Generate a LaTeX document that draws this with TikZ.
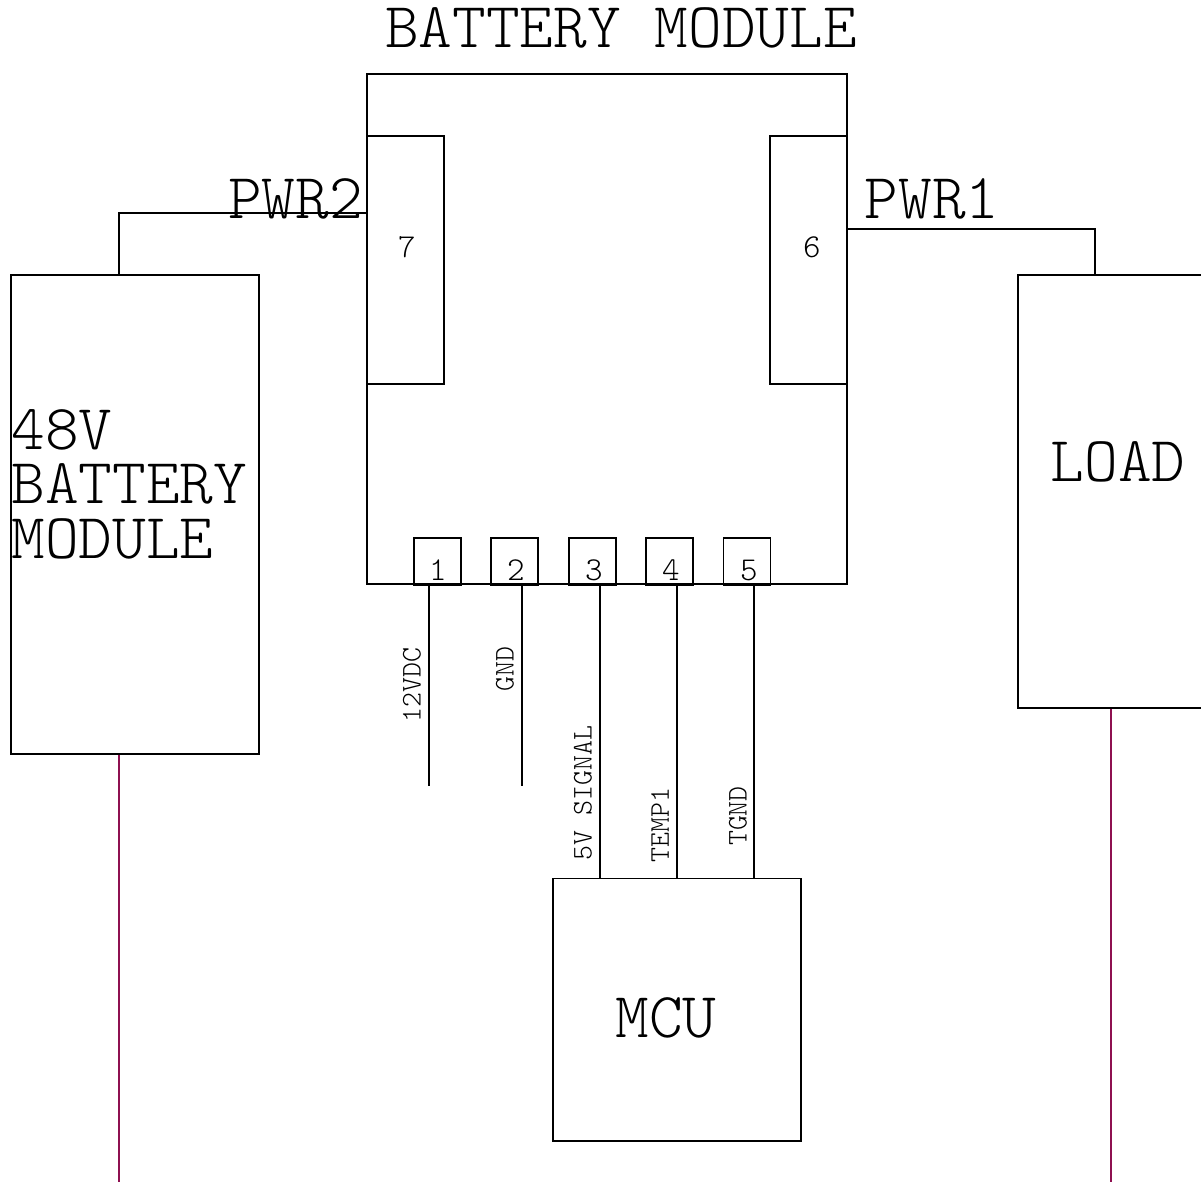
\documentclass[tikz,border=0pt]{standalone}
\usepackage{fontspec}
\usetikzlibrary{positioning}
\definecolor{feed}{HTML}{8E1050}
\tikzset{
    % outline boxes
    block/.style={
	rectangle,
	draw=black, line width=1pt,
	inner sep=0pt,
	anchor=north west
    },
    pin/.style={block, minimum width=.94cm, minimum height=.94cm},
    pinnum/.style={font=\fontsize{19}{19}\fontseries{l}\ttfamily\selectfont, inner sep=0pt},
    biglabel/.style={font=\fontsize{36.5}{31}\fontseries{l}\ttfamily\selectfont, inner sep=0pt},
    siglabel/.style={font=\fontsize{16.2}{18}\fontseries{l}\ttfamily\selectfont, inner sep=0pt, rotate=90},
    wire/.style={draw=black, line width=1pt},
    feedwire/.style={draw=feed, line width=1pt}
}
\begin{document}
\begin{tikzpicture}[x=.02cm,y=-.02cm]
	\useasboundingbox (0,0) rectangle (1201,1182);
	%blocks
	\node[block, minimum width=9.6cm, minimum height=10.2cm](module) at (366.4,73.5){};
	\node[block, minimum width=1.54cm, minimum height=4.96cm](port7) at (366.4,135.5){};
	\node[block, minimum width=1.54cm, minimum height=4.96cm](port6) at (769.4,135.5){};
	\node[block, minimum width=4.96cm, minimum height=9.58cm](battery) at (10,274.5){};
	\node[block, minimum width=4.96cm, minimum height=8.66cm](load) at (1017,274.5){};
	\node[block, minimum width=4.96cm, minimum height=5.26cm](mcu) at (552.4,877.5){};
	%pins
	\node[pin](pin1) at (413,537.5){};
	\node[pin](pin2) at (490.4,537.5){};
	\node[pin](pin3) at (568,537.5){};
	\node[pin](pin4) at (645.4,537.5){};
	\node[pin](pin5) at (722.6,537.5){};
	%free ends
	\coordinate (end12) at (429,786);
	\coordinate (endgnd) at (522,786);
	\coordinate (endbat) at (119,1182);
	\coordinate (endload) at (1111,1182);
	%labels
	\node[biglabel] (title) at (621,28){BATTERY MODULE};
	\node[biglabel] (pwr2) at (295.5,199){PWR2};
	\node[biglabel] (pwr1) at (932,199){PWR1};
	\node[biglabel, anchor=west, align=left] (batt) at (11,484){48V\\BATTERY\\MODULE};
	\node[biglabel] (loadtext) at (1118,462){LOAD};
	\node[biglabel] (mcutext) at (666,1018){MCU};
	\node[pinnum] (n7) at (407,247){7};
	\node[pinnum] (n6) at (812,247){6};
	\node[pinnum] (n1) at (438,570){1};
	\node[pinnum] (n2) at (516,570){2};
	\node[pinnum] (n3) at (594,570){3};
	\node[pinnum] (n4) at (671,570){4};
	\node[pinnum] (n5) at (749,570){5};
	\node[siglabel] (s12) at (412,685){12VDC};
	\node[siglabel] (sgnd) at (505,669){GND};
	\node[siglabel] (s5v) at (583,793){5V SIGNAL};
	\node[siglabel] (stemp) at (660,825){TEMP1};
	\node[siglabel] (stgnd) at (738,816){TGND};
	%wires
	\draw[wire] (battery.north west -| endbat) |- (port7.west |- 0,213);
	\draw[wire] (module.east |- 0,229) -| (load.north west -| 1095,0);
	\draw[wire] (429,585) -- (end12);
	\draw[wire] (522,585) -- (endgnd);
	\draw[wire] (600,585) -- (600,878);
	\draw[wire] (677,585) -- (677,878);
	\draw[wire] (754,585) -- (754,878);
	\draw[feedwire] (battery.south west -| endbat) -- (endbat);
	\draw[feedwire] (load.south west -| endload) -- (endload);
\end{tikzpicture}
\end{document}
